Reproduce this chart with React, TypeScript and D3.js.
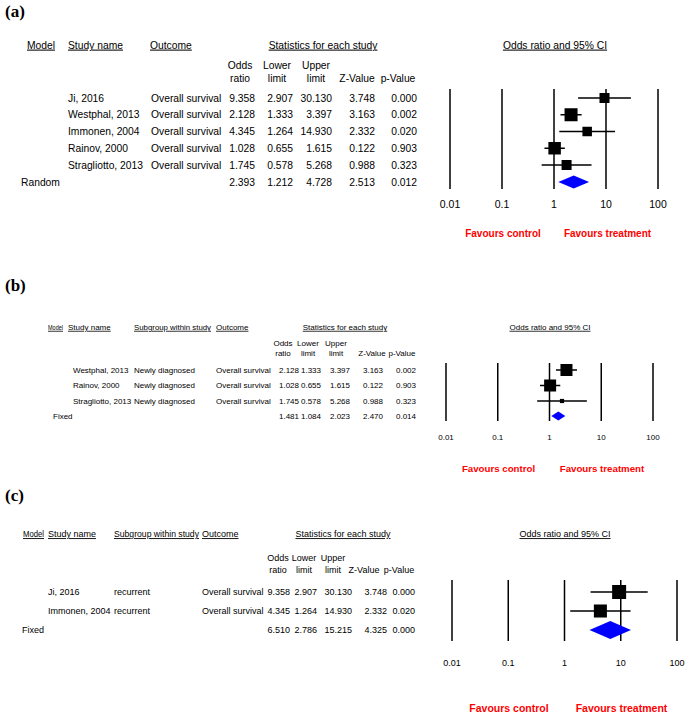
import React from "react";
import * as d3 from "d3";

// ---------- shared ----------
const tickValues = [0.01, 0.1, 1, 10, 100];
const tickLabels = ["0.01", "0.1", "1", "10", "100"];

// ---------- panel (a) ----------
const studiesA = ["Ji, 2016", "Westphal, 2013", "Immonen, 2004", "Rainov, 2000", "Stragliotto, 2013"];
const outcomesA = ["Overall survival", "Overall survival", "Overall survival", "Overall survival", "Overall survival"];
const orA = [9.358, 2.128, 4.345, 1.028, 1.745];
const lowerA = [2.907, 1.333, 1.264, 0.655, 0.578];
const upperA = [30.13, 3.397, 14.93, 1.615, 5.268];
const zA = [3.748, 3.163, 2.332, 0.122, 0.988];
const pA = [0.0, 0.002, 0.02, 0.903, 0.323];
const weightA = [0.77, 1, 0.73, 0.96, 0.77];
const summaryA = { label: "Random", or: 2.393, lower: 1.212, upper: 4.728, z: 2.513, p: 0.012 };

// ---------- panel (b) ----------
const studiesB = ["Westphal, 2013", "Rainov, 2000", "Stragliotto, 2013"];
const subgroupsB = ["Newly diagnosed", "Newly diagnosed", "Newly diagnosed"];
const outcomesB = ["Overall survival", "Overall survival", "Overall survival"];
const orB = [2.128, 1.028, 1.745];
const lowerB = [1.333, 0.655, 0.578];
const upperB = [3.397, 1.615, 5.268];
const zB = [3.163, 0.122, 0.988];
const pB = [0.002, 0.903, 0.323];
const weightB = [1, 1, 0.35];
const summaryB = { label: "Fixed", or: 1.481, lower: 1.084, upper: 2.023, z: 2.47, p: 0.014 };

// ---------- panel (c) ----------
const studiesC = ["Ji, 2016", "Immonen, 2004"];
const subgroupsC = ["recurrent", "recurrent"];
const outcomesC = ["Overall survival", "Overall survival"];
const orC = [9.358, 4.345];
const lowerC = [2.907, 1.264];
const upperC = [30.13, 14.93];
const zC = [3.748, 2.332];
const pC = [0.0, 0.02];
const weightC = [1, 0.93];
const summaryC = { label: "Fixed", or: 6.51, lower: 2.786, upper: 15.215, z: 4.325, p: 0.0 };

const fmt = d3.format(".3f");
const FONT = "Liberation Sans, Arial, Helvetica, sans-serif";

type Layout = {
  tag: string;
  tagY: number;
  fs: number;
  headerY: number;
  modelX: number;
  modelLen?: number;
  studyHX: number;
  subgroupHX?: number;
  subgroupLen?: number;
  outcomeHX: number;
  statsCX: number;
  sub1Y: number;
  sub2Y: number;
  subCX: number[];
  valR: number[];
  rowY0: number;
  rowDy: number;
  summaryY: number;
  studyX: number;
  subgroupX?: number;
  outcomeX: number;
  summaryX: number;
  x0: number;
  x1: number;
  yTop: number;
  yBot: number;
  tickY: number;
  tickFs: number;
  favY: number;
  favC1: number;
  favC2: number;
  favFs: number;
  titleX: number;
  boxMax: number;
  diaH: number;
};

type PanelData = {
  studies: string[];
  subgroups?: string[];
  outcomes: string[];
  or: number[];
  lower: number[];
  upper: number[];
  z: number[];
  p: number[];
  weight: number[];
  summary: { label: string; or: number; lower: number; upper: number; z: number; p: number };
};

function Panel({ L, D }: { L: Layout; D: PanelData }) {
  const x = d3.scaleLog().domain([0.01, 100]).range([L.x0, L.x1]);
  const size = d3.scaleLinear().domain([0, 1]).range([0, L.boxMax]);
  const rowY = (i: number) => L.rowY0 + i * L.rowDy;
  const t = (props: any, s: string, key?: any) => (
    <text key={key} fontFamily={FONT} fontSize={L.fs} dy="0.35em" fill="#000" {...props}>
      {s}
    </text>
  );
  const ul = { textDecoration: "underline" };
  const s = D.summary;
  const dia = [
    [x(s.lower), L.summaryY],
    [x(s.or), L.summaryY - L.diaH],
    [x(s.upper), L.summaryY],
    [x(s.or), L.summaryY + L.diaH],
  ];
  const subHeads1 = ["Odds", "Lower", "Upper", "", ""];
  const subHeads2 = ["ratio", "limit", "limit", "Z-Value", "p-Value"];
  const lenProps = (len?: number) => (len ? { textLength: len, lengthAdjust: "spacingAndGlyphs" } : {});
  return (
    <g>
      <text x={5} y={L.tagY} fontFamily="Liberation Serif, Times New Roman, serif" fontWeight="bold" fontSize={17} dy="0.35em">
        {L.tag}
      </text>
      {/* headers */}
      {t({ x: L.modelX, y: L.headerY, style: ul, ...lenProps(L.modelLen) }, "Model")}
      {t({ x: L.studyHX, y: L.headerY, style: ul }, "Study name")}
      {L.subgroupHX !== undefined &&
        t({ x: L.subgroupHX, y: L.headerY, style: ul, ...lenProps(L.subgroupLen) }, "Subgroup within study")}
      {t({ x: L.outcomeHX, y: L.headerY, style: ul }, "Outcome")}
      {t({ x: L.statsCX, y: L.headerY, textAnchor: "middle", style: ul }, "Statistics for each study")}
      {t({ x: L.titleX, y: L.headerY, textAnchor: "middle", style: ul }, "Odds ratio and 95% CI")}
      {subHeads1.map((h, i) => (h ? t({ x: L.subCX[i], y: L.sub1Y, textAnchor: "middle" }, h, "h1" + i) : null))}
      {subHeads2.map((h, i) => t({ x: L.subCX[i], y: L.sub2Y, textAnchor: "middle" }, h, "h2" + i))}
      {/* rows */}
      {D.studies.map((name, i) => {
        const y = rowY(i);
        const vals = [D.or[i], D.lower[i], D.upper[i], D.z[i], D.p[i]];
        return (
          <g key={"r" + i}>
            {t({ x: L.studyX, y }, name)}
            {D.subgroups && L.subgroupX !== undefined && t({ x: L.subgroupX, y }, D.subgroups[i])}
            {t({ x: L.outcomeX, y }, D.outcomes[i])}
            {vals.map((v, j) => t({ x: L.valR[j], y, textAnchor: "end" }, fmt(v), "v" + j))}
          </g>
        );
      })}
      <g>
        {t({ x: L.summaryX, y: L.summaryY }, s.label)}
        {[s.or, s.lower, s.upper, s.z, s.p].map((v, j) =>
          t({ x: L.valR[j], y: L.summaryY, textAnchor: "end" }, fmt(v), "s" + j)
        )}
      </g>
      {/* plot */}
      {tickValues.map((tv, i) => (
        <g key={"t" + i}>
          <line x1={x(tv)} x2={x(tv)} y1={L.yTop} y2={L.yBot} stroke="#000" strokeWidth={1.5} />
          <text x={x(tv)} y={L.tickY} textAnchor="middle" dy="0.35em" fontFamily={FONT} fontSize={L.tickFs}>
            {tickLabels[i]}
          </text>
        </g>
      ))}
      {D.studies.map((_, i) => {
        const y = rowY(i);
        const b = size(D.weight[i]);
        return (
          <g key={"m" + i}>
            <line x1={x(D.lower[i])} x2={x(D.upper[i])} y1={y} y2={y} stroke="#000" strokeWidth={1.5} />
            <rect x={x(D.or[i]) - b / 2} y={y - b / 2} width={b} height={b} fill="#000" />
          </g>
        );
      })}
      <polygon points={dia.map((p) => p.join(",")).join(" ")} fill="#0000ff" />
      <text x={L.favC1} y={L.favY} textAnchor="middle" dy="0.35em" fontFamily={FONT} fontWeight="bold" fontSize={L.favFs} fill="#ff0000">
        Favours control
      </text>
      <text x={L.favC2} y={L.favY} textAnchor="middle" dy="0.35em" fontFamily={FONT} fontWeight="bold" fontSize={L.favFs} fill="#ff0000">
        Favours treatment
      </text>
    </g>
  );
}

const layoutA: Layout = {
  tag: "(a)", tagY: 11, fs: 10.3, headerY: 45,
  modelX: 27, studyHX: 68, outcomeHX: 150, statsCX: 323,
  sub1Y: 65, sub2Y: 78, subCX: [240, 277, 316, 357, 398], valR: [255, 293, 332, 375, 417],
  rowY0: 98, rowDy: 16.75, summaryY: 182, studyX: 68, outcomeX: 151, summaryX: 21,
  x0: 450, x1: 658, yTop: 89, yBot: 189, tickY: 204, tickFs: 10.5,
  favY: 233, favC1: 503, favC2: 607.5, favFs: 10, titleX: 555, boxMax: 13, diaH: 6.5,
};

const layoutB: Layout = {
  tag: "(b)", tagY: 285, fs: 8, headerY: 327,
  modelX: 48, modelLen: 15, studyHX: 68, subgroupHX: 134, subgroupLen: 77, outcomeHX: 216, statsCX: 345,
  sub1Y: 343, sub2Y: 353, subCX: [283, 308, 336, 372, 402], valR: [299, 321, 350, 383, 416],
  rowY0: 370, rowDy: 15.5, summaryY: 416, studyX: 73, subgroupX: 134, outcomeX: 216, summaryX: 53,
  x0: 446, x1: 653, yTop: 363, yBot: 421, tickY: 437, tickFs: 8,
  favY: 469, favC1: 498.5, favC2: 602, favFs: 9.7, titleX: 550, boxMax: 12, diaH: 4.5,
};

const layoutC: Layout = {
  tag: "(c)", tagY: 495, fs: 9, headerY: 534,
  modelX: 23, modelLen: 21, studyHX: 48, subgroupHX: 114, subgroupLen: 85, outcomeHX: 202, statsCX: 343,
  sub1Y: 558, sub2Y: 570, subCX: [278, 304, 333, 364, 399], valR: [290, 317, 352, 387, 415],
  rowY0: 592, rowDy: 19, summaryY: 630, studyX: 48, subgroupX: 114, outcomeX: 202, summaryX: 22,
  x0: 452, x1: 677, yTop: 580, yBot: 641, tickY: 663, tickFs: 9,
  favY: 708, favC1: 509, favC2: 621.5, favFs: 10.5, titleX: 565, boxMax: 14, diaH: 9,
};

const dataA: PanelData = {
  studies: studiesA, outcomes: outcomesA, or: orA, lower: lowerA, upper: upperA, z: zA, p: pA, weight: weightA, summary: summaryA,
};
const dataB: PanelData = {
  studies: studiesB, subgroups: subgroupsB, outcomes: outcomesB, or: orB, lower: lowerB, upper: upperB, z: zB, p: pB, weight: weightB, summary: summaryB,
};
const dataC: PanelData = {
  studies: studiesC, subgroups: subgroupsC, outcomes: outcomesC, or: orC, lower: lowerC, upper: upperC, z: zC, p: pC, weight: weightC, summary: summaryC,
};

export default function App() {
  return (
    <svg
      width={685}
      height={713}
      style={{ position: "absolute", left: 0, top: 0, background: "#fff" }}
    >
      <rect x={0} y={0} width={685} height={713} fill="#fff" />
      <Panel L={layoutA} D={dataA} />
      <Panel L={layoutB} D={dataB} />
      <Panel L={layoutC} D={dataC} />
    </svg>
  );
}
